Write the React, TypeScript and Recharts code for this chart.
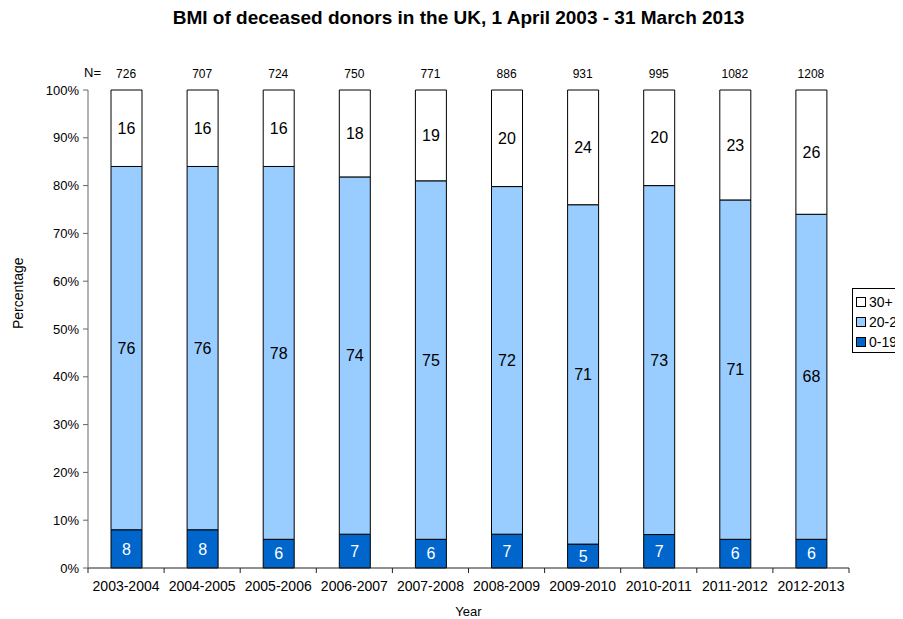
import React from 'react';
import { BarChart, Bar, XAxis, YAxis, LabelList } from 'recharts';

const years = ['2003-2004', '2004-2005', '2005-2006', '2006-2007', '2007-2008', '2008-2009', '2009-2010', '2010-2011', '2011-2012', '2012-2013'];
const donors = [726, 707, 724, 750, 771, 886, 931, 995, 1082, 1208];
const bmiLow = [8, 8, 6, 7, 6, 7, 5, 7, 6, 6];
const bmiMid = [76, 76, 78, 74, 75, 72, 71, 73, 71, 68];
const bmiHigh = [16, 16, 16, 18, 19, 20, 24, 20, 23, 26];
const yTicks = [0, 0.1, 0.2, 0.3, 0.4, 0.5, 0.6, 0.7, 0.8, 0.9, 1];

const data = years.map((year, i) => ({
  year,
  n: String(donors[i]),
  low: bmiLow[i],
  mid: bmiMid[i],
  high: bmiHigh[i],
}));

const legendItems = [
  { label: '30+', color: '#FFFFFF' },
  { label: '20-29', color: '#99CCFF' },
  { label: '0-19', color: '#0066CC' },
];

const font = '"Liberation Sans", Arial, sans-serif';
const axisColor = '#666666';

// Excel-style category axis: tick marks sit between the categories, not under them
const CategoryTick = (props: any) => {
  const { x, y, payload, index, visibleTicksCount } = props;
  const count = visibleTicksCount || years.length;
  const half = 761 / count / 2;
  return (
    <g>
      <line x1={x - half} x2={x - half} y1={y} y2={y + 5} stroke="#222" />
      {index === count - 1 && <line x1={x + half} x2={x + half} y1={y} y2={y + 5} stroke="#222" />}
      <text x={x} y={y + 13} dy="0.71em" textAnchor="middle" fontSize={14} fill="#000">
        {payload.value}
      </text>
    </g>
  );
};

export default function App() {
  return (
    <div style={{ position: 'relative', width: 895, height: 611, overflow: 'hidden', fontFamily: font }}>
      <div style={{ position: 'absolute', top: -2, left: 0, width: 901, textAlign: 'center', fontSize: 19, fontWeight: 'bold', lineHeight: '24px' }}>
        BMI of deceased donors in the UK, 1 April 2003 - 31 March 2013
      </div>
      <div style={{ position: 'absolute', top: 57, left: 76, fontSize: 13 }}>N=</div>
      <BarChart
        width={895}
        height={611}
        data={data}
        stackOffset="expand"
        margin={{ top: 57, right: 54, bottom: 21, left: 0 }}
        style={{ fontFamily: font }}
      >
        <XAxis
          xAxisId="top"
          orientation="top"
          dataKey="n"
          height={25}
          axisLine={false}
          tickLine={false}
          tickMargin={6}
          tick={{ fontSize: 12, fill: '#000' }}
        />
        <XAxis
          dataKey="year"
          height={30}
          axisLine={{ stroke: '#222' }}
          tickLine={false}
          tickSize={0}
          tickMargin={0}
          tick={<CategoryTick />}
          interval={0}
          label={{ value: 'Year', position: 'insideBottom', offset: -18, fontSize: 13, fill: '#000' }}
        />
        <YAxis
          width={80}
          domain={[0, 1]}
          ticks={yTicks}
          tickFormatter={(v: number) => `${Math.round(v * 100)}%`}
          tick={{ fontSize: 13, fill: '#000' }}
          tickSize={5}
          tickMargin={4}
          axisLine={{ stroke: axisColor }}
          tickLine={{ stroke: axisColor }}
          label={{ value: 'Percentage', angle: -90, position: 'insideLeft', offset: 10, fontSize: 14, fill: '#000' }}
        />
        <Bar dataKey="low" stackId="a" fill="#0066CC" stroke="#000" strokeWidth={1} barSize={31} isAnimationActive={false}>
          <LabelList dataKey="low" position="center" fill="#FFFFFF" fontSize={16} />
        </Bar>
        <Bar dataKey="mid" stackId="a" fill="#99CCFF" stroke="#000" strokeWidth={1} barSize={31} isAnimationActive={false}>
          <LabelList dataKey="mid" position="center" fill="#000" fontSize={16} />
        </Bar>
        <Bar dataKey="high" stackId="a" fill="#FFFFFF" stroke="#000" strokeWidth={1} barSize={31} isAnimationActive={false}>
          <LabelList dataKey="high" position="center" fill="#000" fontSize={16} />
        </Bar>
      </BarChart>
      <div
        style={{
          position: 'absolute',
          left: 844,
          top: 280,
          width: 80,
          border: '1px solid #000',
          background: '#fff',
          padding: '3px 0 0 3px',
          fontSize: 14,
        }}
      >
        {legendItems.map((item) => (
          <div key={item.label} style={{ display: 'flex', alignItems: 'center', height: 20 }}>
            <span style={{ display: 'inline-block', width: 8, height: 8, border: '1px solid #000', background: item.color, marginRight: 3 }} />
            {item.label}
          </div>
        ))}
      </div>
    </div>
  );
}
